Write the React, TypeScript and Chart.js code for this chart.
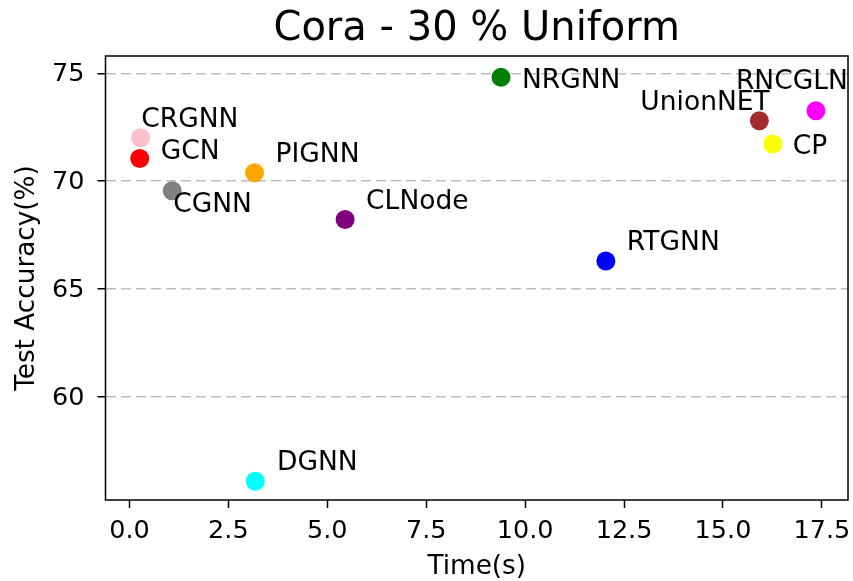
import React, { useEffect, useRef } from "react";
import { Chart, registerables } from "chart.js";

Chart.register(...registerables);

const TITLE = "Cora - 30 % Uniform";
const X_TITLE = "Time(s)";
const Y_TITLE = "Test Accuracy(%)";

const METHODS = ["CRGNN", "GCN", "CGNN", "PIGNN", "CLNode", "NRGNN", "RTGNN", "UnionNET", "RNCGLN", "CP", "DGNN"];
const TIME_S = [0.28, 0.26, 1.08, 3.16, 5.45, 9.39, 12.04, 15.92, 17.35, 16.26, 3.18];
const ACCURACY = [72.01, 71.05, 69.55, 70.39, 68.22, 74.81, 66.3, 72.8, 73.26, 71.72, 56.09];
const COLORS = ["#FFC0CB", "#FF0000", "#808080", "#FFA500", "#800080", "#008000", "#0000FF", "#A52A2A", "#FF00FF", "#FFFF00", "#00FFFF"];

// label offsets (px) from each point: [dx to text left edge, dy to text middle]
const LABEL_OFFSETS: [number, number][] = [
  [0.7, -18], [21, -6], [1, 14], [21, -18], [21, -17], [21, 3.5],
  [21, -18], [-119, -17.7], [-80, -28.4], [20, 3], [21.7, -18],
];

const X_TICKS = [0, 2.5, 5, 7.5, 10, 12.5, 15, 17.5];
const Y_TICKS = [60, 65, 70, 75];
const X_RANGE = [-0.606, 18.16];
const Y_RANGE = [55.22, 75.8];

const FONT = "'DejaVu Sans'";

const overlay = {
  id: "overlay",
  afterDraw(chart: any) {
    const { ctx, chartArea: a } = chart;
    ctx.save();
    ctx.strokeStyle = "#000";
    ctx.lineWidth = 1.5;
    ctx.strokeRect(a.left, a.top, a.right - a.left, a.bottom - a.top);
    const meta = chart.getDatasetMeta(0);
    ctx.fillStyle = "#000";
    ctx.font = `26.5px ${FONT}`;
    ctx.textAlign = "left";
    ctx.textBaseline = "middle";
    METHODS.forEach((name, i) => {
      const el = meta.data[i];
      const [dx, dy] = LABEL_OFFSETS[i];
      ctx.fillText(name, el.x + dx, el.y + dy);
    });
    ctx.font = `40px ${FONT}`;
    ctx.textAlign = "center";
    ctx.fillText(TITLE, (a.left + a.right) / 2, 29.5);
    ctx.restore();
  },
};

export default function App() {
  const ref = useRef<HTMLCanvasElement>(null);
  useEffect(() => {
    if (!ref.current) return;
    const chart = new Chart(ref.current, {
      type: "scatter",
      data: {
        datasets: [
          {
            data: TIME_S.map((x, i) => ({ x, y: ACCURACY[i] })),
            backgroundColor: COLORS,
            borderColor: COLORS,
            borderWidth: 0,
            pointRadius: 9.5,
            pointHoverRadius: 9.5,
          },
        ],
      },
      options: {
        responsive: false,
        animation: false,
        events: [],
        layout: { autoPadding: false, padding: { top: 56, right: 5, left: 0, bottom: 0 } },
        plugins: { legend: { display: false }, title: { display: false }, tooltip: { enabled: false } },
        scales: {
          x: {
            type: "linear",
            min: X_RANGE[0],
            max: X_RANGE[1],
            bounds: "data",
            afterBuildTicks: (s: any) => {
              s.ticks = X_TICKS.map((v) => ({ value: v }));
            },
            afterFit: (s: any) => {
              s.height = 81;
              s.paddingLeft = 0;
              s.paddingRight = 0;
            },
            ticks: {
              autoSkip: false,
              maxRotation: 0,
              color: "#000",
              padding: 8.5,
              font: { family: FONT, size: 25.5 },
              callback: (v: any) => Number(v).toFixed(1),
            },
            grid: {
              display: true,
              drawOnChartArea: false,
              drawTicks: true,
              tickLength: 8,
              tickColor: "#000",
              tickWidth: 1.5,
            },
            border: { display: false },
            title: {
              display: true,
              text: X_TITLE,
              color: "#000",
              font: { family: FONT, size: 26.3 },
              padding: { top: 0, bottom: -1.5 },
            },
          },
          y: {
            type: "linear",
            min: Y_RANGE[0],
            max: Y_RANGE[1],
            bounds: "data",
            z: 1,
            afterBuildTicks: (s: any) => {
              s.ticks = Y_TICKS.map((v) => ({ value: v }));
            },
            afterFit: (s: any) => {
              s.width = 105.5;
              s.paddingTop = 0;
              s.paddingBottom = 0;
            },
            ticks: {
              autoSkip: false,
              color: "#000",
              padding: 13,
              labelOffset: 1.5,
              font: { family: FONT, size: 25.5 },
              callback: (v: any) => String(Math.round(Number(v))),
            },
            grid: {
              display: true,
              drawOnChartArea: true,
              drawTicks: true,
              color: "#bdbdbd",
              lineWidth: 1.5,
              tickLength: 8,
              tickColor: "#000",
              tickWidth: 1.5,
            },
            border: { display: false, dash: [10, 5] },
            title: {
              display: true,
              text: Y_TITLE,
              color: "#000",
              font: { family: FONT, size: 26.3 },
              padding: { top: 11, bottom: 0 },
            },
          },
        },
      },
      plugins: [overlay],
    } as any);
    return () => chart.destroy();
  }, []);
  return (
    <div style={{ position: "absolute", left: 0, top: 0, width: 853, height: 581, background: "#fff" }}>
      <canvas ref={ref} width={853} height={581} style={{ display: "block" }} />
    </div>
  );
}
